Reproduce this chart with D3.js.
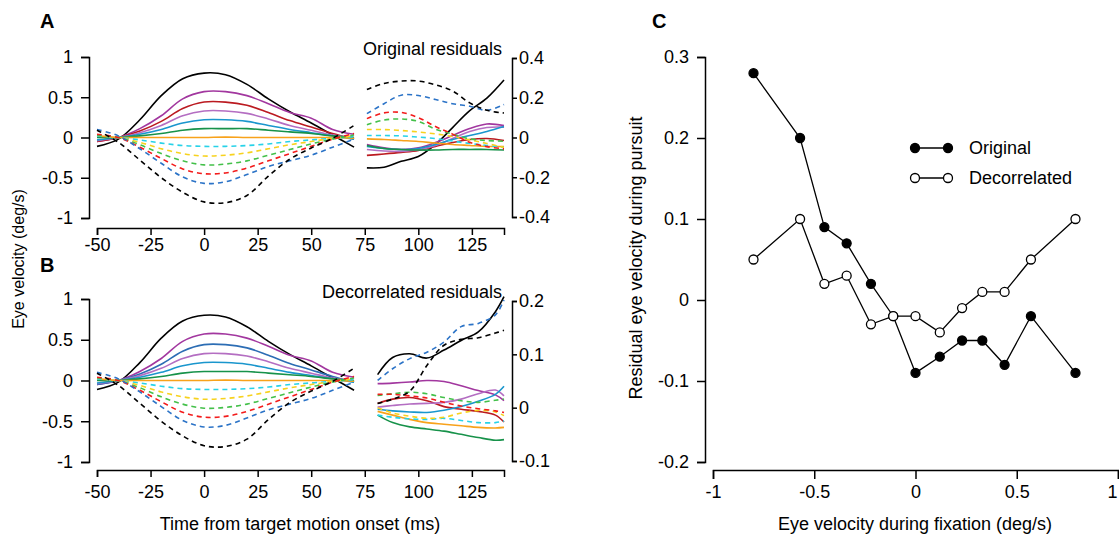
<!DOCTYPE html>
<html>
<head>
<meta charset="utf-8">
<script src="https://cdn.jsdelivr.net/npm/d3@7"></script>
<style>
  body { margin: 0; background: #fff; }
  svg { font-family: "Liberation Sans", Arial, Helvetica, sans-serif; }
  .axis path, .axis line { stroke: #000; stroke-width: 1.5; }
  .axis text { font-size: 18px; fill: #000; }
</style>
</head>
<body>
<svg id="root" width="1119" height="538"></svg>
<script>
// ---- data ----
const timeLeft = [-50, -40, -30, -20, -10, 0, 10, 20, 30, 40, 50, 60, 70];
const timeRightA = [76, 84, 92, 100, 108, 116, 124, 132, 140];
const timeRightB = [81, 88, 96, 104, 112, 120, 128, 136, 140];

// order: solid black, purple, red, lilac, blue, green, orange, then dashed cyan, yellow, green, red, blue, black
const traceDashed = [false, false, false, false, false, false, false, true, true, true, true, true, true];

const leftTraces = [
  [-0.11, -0.02, 0.22, 0.52, 0.73, 0.80, 0.78, 0.66, 0.48, 0.32, 0.18, 0.03, -0.12],
  [-0.05, 0.00, 0.11, 0.27, 0.48, 0.57, 0.57, 0.52, 0.42, 0.31, 0.24, 0.10, 0.04],
  [-0.05, 0.00, 0.08, 0.20, 0.36, 0.44, 0.44, 0.40, 0.31, 0.21, 0.13, 0.05, -0.02],
  [-0.04, 0.00, 0.06, 0.15, 0.27, 0.33, 0.33, 0.30, 0.23, 0.15, 0.09, 0.03, 0.00],
  [-0.03, 0.00, 0.04, 0.10, 0.18, 0.22, 0.22, 0.20, 0.15, 0.10, 0.06, 0.02, -0.02],
  [0.00, 0.00, 0.02, 0.05, 0.09, 0.11, 0.11, 0.11, 0.09, 0.07, 0.05, 0.02, 0.00],
  [0.02, 0.00, 0.00, 0.00, 0.00, 0.00, 0.005, 0.00, 0.00, 0.00, 0.00, 0.00, -0.01],
  [0.02, 0.00, -0.03, -0.07, -0.10, -0.11, -0.11, -0.10, -0.08, -0.05, -0.03, -0.01, 0.01],
  [0.03, 0.00, -0.06, -0.14, -0.20, -0.23, -0.22, -0.19, -0.14, -0.09, -0.05, -0.01, 0.02],
  [0.03, 0.00, -0.09, -0.20, -0.29, -0.34, -0.33, -0.29, -0.22, -0.15, -0.08, -0.02, 0.03],
  [0.04, 0.00, -0.12, -0.26, -0.39, -0.45, -0.44, -0.38, -0.29, -0.20, -0.11, -0.02, 0.05],
  [0.10, 0.02, -0.14, -0.32, -0.49, -0.57, -0.55, -0.46, -0.36, -0.29, -0.22, -0.12, -0.02],
  [0.09, -0.06, -0.28, -0.50, -0.68, -0.80, -0.81, -0.72, -0.48, -0.27, -0.13, -0.01, 0.15]
];

const rightTracesA = [
  [-0.153, -0.15, -0.12, -0.096, -0.035, 0.05, 0.135, 0.198, 0.289],
  [-0.035, -0.052, -0.06, -0.052, -0.025, 0.01, 0.045, 0.068, 0.06],
  [-0.09, -0.083, -0.075, -0.065, -0.045, -0.025, -0.01, -0.005, -0.015],
  [-0.06, -0.068, -0.07, -0.062, -0.04, -0.005, 0.03, 0.05, 0.052],
  [-0.045, -0.055, -0.06, -0.055, -0.035, -0.01, 0.01, 0.03, 0.055],
  [-0.04, -0.055, -0.06, -0.063, -0.063, -0.06, -0.06, -0.06, -0.063],
  [-0.007, -0.01, -0.015, -0.02, -0.028, -0.035, -0.04, -0.045, -0.045],
  [0.01, 0.01, 0.008, 0.002, -0.005, -0.018, -0.03, -0.04, -0.05],
  [0.04, 0.04, 0.035, 0.028, 0.018, 0.005, -0.012, -0.03, -0.05],
  [0.064, 0.088, 0.093, 0.081, 0.042, 0.017, -0.007, -0.015, -0.019],
  [0.095, 0.124, 0.126, 0.10, 0.055, 0.017, -0.024, -0.046, -0.057],
  [0.12, 0.17, 0.213, 0.211, 0.191, 0.17, 0.157, 0.137, 0.166],
  [0.241, 0.272, 0.284, 0.284, 0.265, 0.234, 0.174, 0.137, 0.123]
];

const rightTracesB = [
  [0.062, 0.094, 0.101, 0.093, 0.108, 0.126, 0.142, 0.18, 0.208],
  [0.045, 0.046, 0.048, 0.051, 0.049, 0.041, 0.032, 0.024, 0.013],
  [0.008, 0.016, 0.019, 0.013, 0.002, -0.003, -0.007, -0.014, -0.027],
  [0.001, 0.004, 0.007, 0.008, 0.01, 0.016, 0.026, 0.033, 0.022],
  [-0.003, -0.006, -0.008, -0.009, -0.005, 0.002, 0.012, 0.025, 0.04],
  [-0.014, -0.028, -0.036, -0.04, -0.044, -0.05, -0.056, -0.061, -0.06],
  [-0.007, -0.014, -0.022, -0.028, -0.031, -0.034, -0.037, -0.038, -0.037],
  [-0.014, -0.018, -0.021, -0.022, -0.02, -0.024, -0.028, -0.028, -0.025],
  [0.0, -0.01, -0.016, -0.02, -0.018, -0.01, -0.005, -0.008, -0.015],
  [0.023, 0.026, 0.029, 0.026, 0.019, 0.013, 0.01, 0.014, 0.016],
  [0.025, 0.025, 0.022, 0.018, 0.01, 0.003, -0.002, -0.006, -0.009],
  [0.051, 0.073, 0.092, 0.104, 0.123, 0.152, 0.158, 0.174, 0.202],
  [0.008, 0.016, 0.031, 0.079, 0.117, 0.128, 0.131, 0.14, 0.145]
];

const colorsA = ["#000000", "#a2379f", "#bb1a20", "#b46ec2", "#1a96cd", "#17924a", "#f8a21b",
                 "#27d2e8", "#f7d21e", "#44c04a", "#f31b1b", "#2b73c7", "#000000"];
const colorsLeftB = ["#000000", "#a2379f", "#2c6db4", "#b46ec2", "#1a96cd", "#17924a", "#f8a21b",
                 "#27d2e8", "#f7d21e", "#44c04a", "#f31b1b", "#2b73c7", "#000000"];

const leftTicksY = [-1, -0.5, 0, 0.5, 1];
const timeTicks = [-50, -25, 0, 25, 50, 75, 100, 125];
const rightTicksA = [-0.4, -0.2, 0, 0.2, 0.4];
const rightTicksB = [-0.1, 0, 0.1, 0.2];

// panel C
const fixVelocity = [-0.80, -0.57, -0.45, -0.34, -0.22, -0.11, 0, 0.12, 0.23, 0.33, 0.44, 0.57, 0.79];
const originalResid = [0.28, 0.20, 0.09, 0.07, 0.02, -0.02, -0.09, -0.07, -0.05, -0.05, -0.08, -0.02, -0.09];
const decorrResid = [0.05, 0.10, 0.02, 0.03, -0.03, -0.02, -0.02, -0.04, -0.01, 0.01, 0.01, 0.05, 0.10];
const cTicksY = [-0.2, -0.1, 0, 0.1, 0.2, 0.3];
const cTicksX = [-1, -0.5, 0, 0.5, 1];

// ---- drawing ----
const svg = d3.select("#root");
const fmt = d => String(d);

const x = d3.scaleLinear().domain([-50, 140]).range([97, 504]);

function drawTraces(g, times, traces, yScale, colors) {
  const line = d3.line()
      .x((d, i) => x(times[i]))
      .y(d => yScale(d))
      .curve(d3.curveCatmullRom.alpha(0.5));
  g.selectAll("path.trace")
    .data(traces)
    .join("path")
      .attr("class", "trace")
      .attr("d", d => line(d))
      .attr("fill", "none")
      .attr("stroke", (d, i) => colors[i])
      .attr("stroke-width", 1.6)
      .attr("stroke-dasharray", (d, i) => traceDashed[i] ? "5,4" : null);
}

function timePanel(cfg) {
  const g = svg.append("g");
  const yL = d3.scaleLinear().domain([-1, 1]).range([cfg.bottom, cfg.top]);
  const yR = d3.scaleLinear().domain(cfg.rightDomain).range(cfg.rightRange);

  drawTraces(g.append("g"), timeLeft, leftTraces, yL, cfg.leftColors);
  drawTraces(g.append("g"), cfg.rightTimes, cfg.rightTraces, yR, colorsA);

  g.append("g").attr("class", "axis")
      .attr("transform", "translate(89,0)")
      .call(d3.axisLeft(yL).tickValues(leftTicksY).tickFormat(fmt).tickSizeOuter(0).tickSize(8).tickPadding(8));

  g.append("g").attr("class", "axis")
      .attr("transform", "translate(512,0)")
      .call(d3.axisRight(yR).tickValues(cfg.rightTicks).tickFormat(fmt).tickSizeOuter(0).tickSize(5).tickPadding(2));

  g.append("g").attr("class", "axis")
      .attr("transform", `translate(0,${cfg.xAxisY})`)
      .call(d3.axisBottom(x).tickValues(timeTicks).tickFormat(fmt).tickSizeOuter(0).tickSize(7).tickPadding(cfg.xPad));

  g.append("text")
      .attr("x", 502).attr("y", cfg.titleY)
      .attr("text-anchor", "end")
      .attr("font-size", 18)
      .text(cfg.title);

  g.append("text")
      .attr("x", 40).attr("y", cfg.letterY)
      .attr("font-size", 20).attr("font-weight", "bold")
      .text(cfg.letter);
}

timePanel({
  letter: "A", letterY: 28, title: "Original residuals", titleY: 55,
  top: 57, bottom: 218, xAxisY: 228, xPad: 3,
  leftColors: colorsA,
  rightTimes: timeRightA, rightTraces: rightTracesA,
  rightDomain: [-0.4, 0.4], rightRange: [217, 58], rightTicks: rightTicksA
});

timePanel({
  letter: "B", letterY: 272, title: "Decorrelated residuals", titleY: 298,
  top: 299, bottom: 462, xAxisY: 470, xPad: 8,
  leftColors: colorsLeftB,
  rightTimes: timeRightB, rightTraces: rightTracesB,
  rightDomain: [-0.1, 0.2], rightRange: [461, 301], rightTicks: rightTicksB
});

svg.append("text")
    .attr("transform", "translate(24,259) rotate(-90)")
    .attr("text-anchor", "middle")
    .attr("font-size", 16)
    .text("Eye velocity (deg/s)");

svg.append("text")
    .attr("x", 300).attr("y", 530)
    .attr("text-anchor", "middle")
    .attr("font-size", 18)
    .text("Time from target motion onset (ms)");

// panel C
const xC = d3.scaleLinear().domain([-1, 1]).range([713, 1118]);
const yC = d3.scaleLinear().domain([-0.2, 0.3]).range([462, 57]);
const gC = svg.append("g");

gC.append("g").attr("class", "axis")
    .attr("transform", "translate(705,0)")
    .call(d3.axisLeft(yC).tickValues(cTicksY).tickFormat(fmt).tickSizeOuter(0).tickSize(8).tickPadding(8));

const xAxisC = gC.append("g").attr("class", "axis")
    .attr("transform", "translate(0,470)")
    .call(d3.axisBottom(xC).tickValues(cTicksX).tickFormat(fmt).tickSizeOuter(0).tickSize(9).tickPadding(6));
// last label sits at the window edge; keep it inside
xAxisC.selectAll(".tick text").filter(d => d === 1).attr("text-anchor", "end").attr("dx", -1);

const lineC = d3.line().x((d, i) => xC(fixVelocity[i])).y(d => yC(d));

[[originalResid, "#000"], [decorrResid, "#fff"]].forEach(([vals, fill]) => {
  gC.append("path")
      .attr("d", lineC(vals))
      .attr("fill", "none")
      .attr("stroke", "#000")
      .attr("stroke-width", 1.3);
  gC.append("g").selectAll("circle")
    .data(vals)
    .join("circle")
      .attr("cx", (d, i) => xC(fixVelocity[i]))
      .attr("cy", d => yC(d))
      .attr("r", 4.5)
      .attr("fill", fill)
      .attr("stroke", "#000")
      .attr("stroke-width", 1.3);
});

// legend
const legend = gC.append("g");
[["Original", "#000", 148], ["Decorrelated", "#fff", 178]].forEach(([label, fill, ly]) => {
  legend.append("line").attr("x1", 915).attr("x2", 948).attr("y1", ly).attr("y2", ly)
      .attr("stroke", "#000").attr("stroke-width", 1.3);
  [915, 948].forEach(cx => legend.append("circle").attr("cx", cx).attr("cy", ly).attr("r", 4.5)
      .attr("fill", fill).attr("stroke", "#000").attr("stroke-width", 1.3));
  legend.append("text").attr("x", 969).attr("y", ly + 6).attr("font-size", 18).text(label);
});

svg.append("text")
    .attr("transform", "translate(642,258) rotate(-90)")
    .attr("text-anchor", "middle")
    .attr("font-size", 18)
    .text("Residual eye velocity during pursuit");

svg.append("text")
    .attr("x", 915).attr("y", 530)
    .attr("text-anchor", "middle")
    .attr("font-size", 18)
    .text("Eye velocity during fixation (deg/s)");

svg.append("text")
    .attr("x", 652).attr("y", 28)
    .attr("font-size", 20).attr("font-weight", "bold")
    .text("C");
</script>
</body>
</html>
